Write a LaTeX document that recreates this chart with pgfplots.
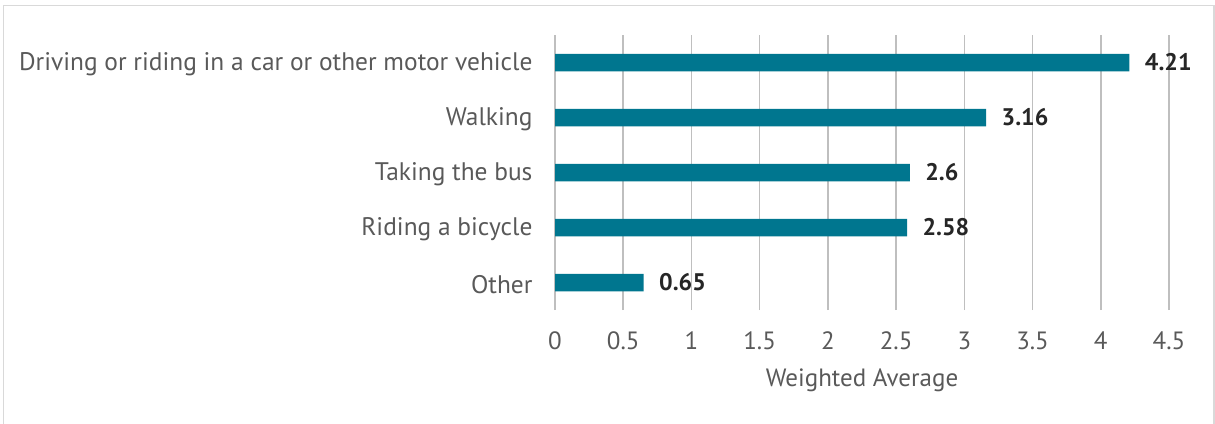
\documentclass[border=0pt]{standalone}
\usepackage{pgfplots}
\pgfplotsset{compat=1.18}
\usepackage{fontspec}
\setmainfont{PT Sans}
\definecolor{barc}{HTML}{00768F}
\definecolor{txt}{HTML}{595959}
\definecolor{grid}{HTML}{D9D9D9}
\definecolor{lab}{HTML}{262626}
\begin{document}
\begin{tikzpicture}[x=1pt,y=1pt]
\path[use as bounding box] (0,0) rectangle (1215,-423);
\draw[grid,line width=1.2pt] (3.5,-440) -- (3.5,-5.5) -- (1214,-5.5) -- (1214,-440);
\begin{axis}[
  at={(555pt,-310pt)}, anchor=south west,
  scale only axis, width=614pt, height=275pt,
  xbar, bar width=17.5pt,
  xmin=0, xmax=4.5, ymin=-0.5, ymax=4.5,
  xtick={0,0.5,...,4.5},
  ytick={0,1,2,3,4},
  yticklabels={Other,Riding a bicycle,Taking the bus,Walking,Driving or riding in a car or other motor vehicle},
  separate axis lines,
  axis line style={draw=none},
  every outer x axis line/.append style={draw=none},
  every outer y axis line/.append style={draw=none},
  tick style={draw=none},
  major tick length=0pt,
  xmajorgrids, ymajorgrids=false, grid style={grid,line width=1.5pt},
  /pgf/number format/assume math mode=true,
  xticklabel style={font=\fontsize{25}{30}\selectfont, text=txt, yshift=-18pt},
  yticklabel style={font=\fontsize{25.4}{30}\selectfont, text=txt, xshift=-19pt, yshift=-2pt},
  xlabel={Weighted Average},
  xlabel style={font=\fontsize{25}{30}\selectfont, text=txt, yshift=-12pt},
  nodes near coords,
  nodes near coords style={font=\bfseries\fontsize{24}{28}\selectfont, text=lab, anchor=west, xshift=12pt},
  point meta=explicit symbolic,
]
\addplot[fill=barc, draw=none] coordinates {
  (0.65,0) [0.65]
  (2.58,1) [2.58]
  (2.6,2) [2.6]
  (3.16,3) [3.16]
  (4.21,4) [4.21]
};
\end{axis}
\end{tikzpicture}
\end{document}
